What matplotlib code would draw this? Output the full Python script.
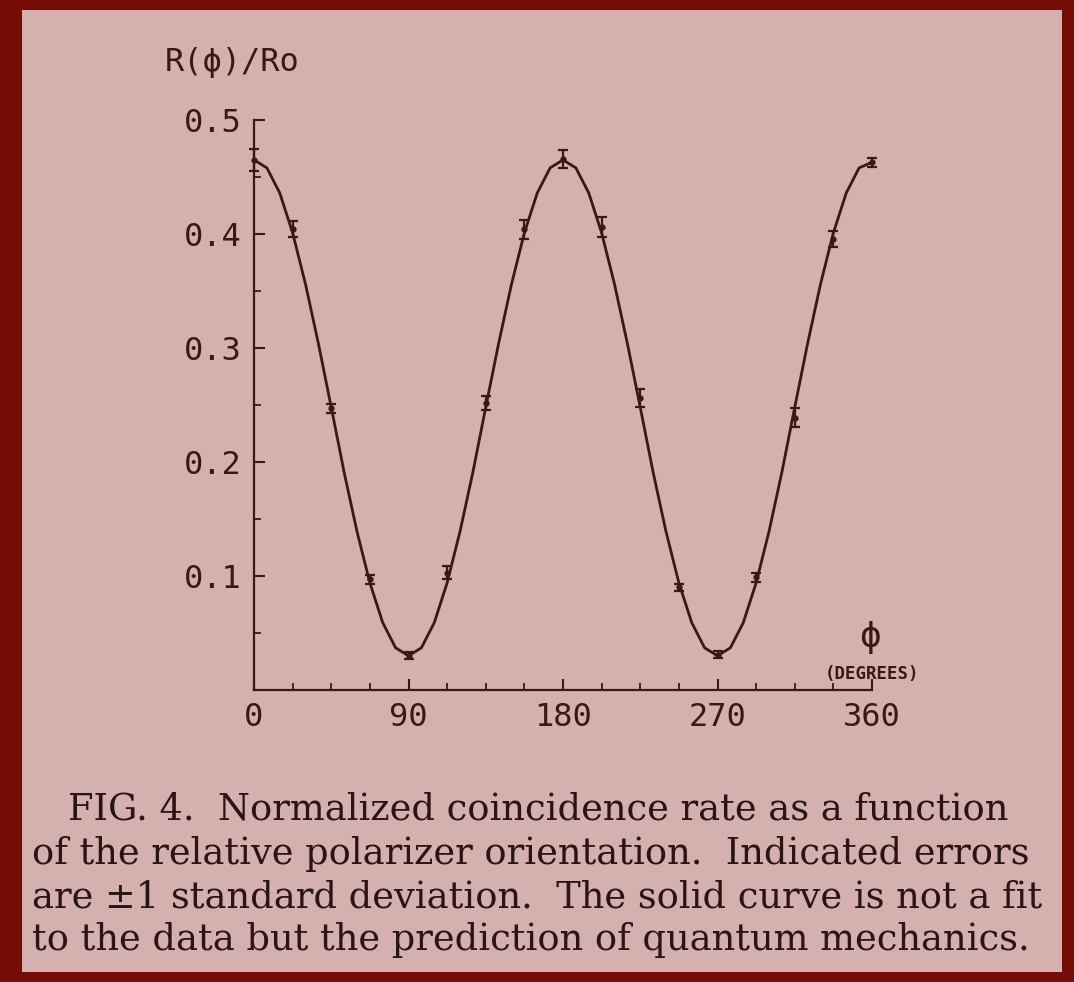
import matplotlib.pyplot as plt
from matplotlib.patches import Rectangle
import numpy as np

# measured points (degrees, normalized rate, +-1 sigma)
angles = [0, 22.5, 45, 67.5, 90, 112.5, 135, 157.5, 180,
          202.5, 225, 247.5, 270, 292.5, 315, 337.5, 360]
rates = [0.465, 0.404, 0.247, 0.097, 0.030, 0.103, 0.252, 0.404, 0.466,
         0.406, 0.256, 0.090, 0.031, 0.099, 0.239, 0.396, 0.463]
errors = [0.010, 0.007, 0.004, 0.004, 0.003, 0.006, 0.006, 0.008, 0.008,
          0.009, 0.008, 0.003, 0.003, 0.004, 0.008, 0.007, 0.004]

# quantum mechanics prediction, every 7.5 deg
curve_angles = np.arange(0, 360.1, 7.5)
curve_rates = [0.465, 0.458, 0.436, 0.401, 0.356, 0.304, 0.248, 0.191, 0.139,
               0.094, 0.059, 0.037, 0.030, 0.037, 0.059, 0.094, 0.139, 0.191,
               0.248, 0.304, 0.356, 0.401, 0.436, 0.458, 0.465,
               0.458, 0.436, 0.401, 0.356, 0.304, 0.248, 0.191, 0.139,
               0.094, 0.059, 0.037, 0.030, 0.037, 0.059, 0.094, 0.139, 0.191,
               0.248, 0.304, 0.356, 0.401, 0.436, 0.458, 0.463]

xtick_labels = ["0", "90", "180", "270", "360"]
ytick_labels = ["0.1", "0.2", "0.3", "0.4", "0.5"]

caption = [
    "FIG. 4.  Normalized coincidence rate as a function",
    "of the relative polarizer orientation.  Indicated errors",
    "are \u00b11 standard deviation.  The solid curve is not a fit",
    "to the data but the prediction of quantum mechanics.",
]

ink = "#3a1816"
paper = "#d4b0ae"
border = "#760c06"
mono = ["DejaVu Sans Mono", "DejaVu Sans"]

W, H = 1074, 982
fig = plt.figure(figsize=(W / 100, H / 100), dpi=100)
fig.patch.set_facecolor(border)
fig.patches.append(Rectangle((22 / W, 10 / H), (1062 - 22) / W, (972 - 10) / H,
                             transform=fig.transFigure, facecolor=paper,
                             edgecolor="none", zorder=-5))

ax = fig.add_axes([254 / W, 1 - 690 / H, (872 - 254) / W, (690 - 120) / H])
ax.set_facecolor("none")
ax.set_zorder(2)
ax.set_xlim(0, 360)
ax.set_ylim(0, 0.5)

ax.plot(curve_angles, curve_rates, color=ink, lw=2.0, solid_joinstyle="round",
        solid_capstyle="round", clip_on=False)
ax.errorbar(angles, rates, yerr=errors, fmt="o", ms=3.5, color=ink,
            ecolor=ink, elinewidth=1.6, capsize=3.5, capthick=1.6, clip_on=False)

for side in ["top", "right"]:
    ax.spines[side].set_visible(False)
for side in ["left", "bottom"]:
    ax.spines[side].set_color(ink)
    ax.spines[side].set_linewidth(1.6)

ax.set_xticks([0, 90, 180, 270, 360])
ax.set_xticklabels(xtick_labels)
ax.set_xticks(np.arange(0, 361, 22.5), minor=True)
ax.set_yticks([0.1, 0.2, 0.3, 0.4, 0.5])
ax.set_yticklabels(ytick_labels)
ax.set_yticks(np.arange(0, 0.51, 0.05), minor=True)
ax.tick_params(which="major", direction="in", length=8, width=1.5, color=ink,
               labelcolor=ink, labelsize=23, pad=9)
ax.tick_params(which="minor", direction="in", length=5, width=1.3, color=ink)
for lab in ax.get_xticklabels() + ax.get_yticklabels():
    lab.set_family(mono)

# axis titles
fig.text(165 / W, 1 - 63 / H, "R(\u03d5)/Ro", family=mono, fontsize=23,
         color=ink, ha="left", va="center")
fig.text(870 / W, 1 - 637 / H, "\u03d5", family=mono, fontsize=26,
         color=ink, ha="center", va="center")
fig.text(872 / W, 1 - 674 / H, "(DEGREES)", family=mono, fontsize=12.5,
         fontweight="bold", color=ink, ha="center", va="center")

# caption
starts = [68, 32, 32, 32]
rows = [810, 854, 897, 940]
for line, x0, y0 in zip(caption, starts, rows):
    fig.text(x0 / W, 1 - y0 / H, line, family=["DejaVu Serif"],
             fontsize=26.5, color="#2a1414", ha="left", va="center")

fig.savefig("out.png", dpi=100, facecolor=fig.get_facecolor())
